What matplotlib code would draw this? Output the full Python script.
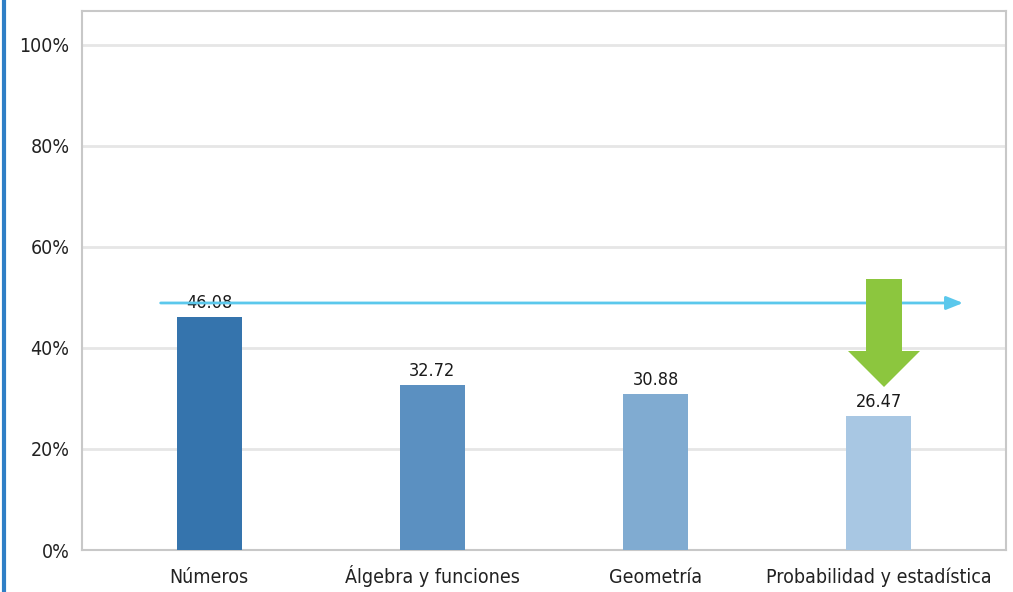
import matplotlib
matplotlib.use("Agg")
import matplotlib.pyplot as plt
from matplotlib.patches import Polygon
from matplotlib.lines import Line2D

categories = ["Números", "Álgebra y funciones", "Geometría", "Probabilidad y estadística"]
values = [46.08, 32.72, 30.88, 26.47]
bar_colors = ["#3574ad", "#5b90c1", "#80abd1", "#a8c7e3"]
yticks = [0, 20, 40, 60, 80, 100]
ytick_labels = ["0%", "20%", "40%", "60%", "80%", "100%"]
reference_level = 48.9

W, H = 1013, 592
fig = plt.figure(figsize=(W / 100, H / 100), dpi=100)
fig.patch.set_facecolor("white")

left, right, top, bottom = 82, 1006, 11, 550
ax = fig.add_axes([left / W, 1 - bottom / H, (right - left) / W, (bottom - top) / H])

x = list(range(len(categories)))
ax.bar(x, values, width=0.29, color=bar_colors, edgecolor="none", zorder=3)

font = dict(family="DejaVu Sans", fontstretch="condensed")
for xi, v in zip(x, values):
    ax.text(xi, v + 1.0, f"{v:.2f}", ha="center", va="bottom", fontsize=13,
            color="#1a1a1a", fontweight="medium", zorder=5, **font)

ax.set_xlim(-0.57, 3.57)
ax.set_ylim(0, 106.7)
ax.set_yticks(yticks)
ax.set_yticklabels(ytick_labels, fontsize=14, color="#222222", **font)
ax.set_xticks(x)
ax.set_xticklabels(categories, fontsize=14, color="#222222", **font)
ax.tick_params(axis="both", length=0)
ax.tick_params(axis="y", pad=9)
ax.tick_params(axis="x", pad=24)
for lab in ax.get_xticklabels():
    lab.set_va("baseline")
ax.grid(axis="y", color="#e6e6e6", linewidth=2, zorder=0)
for s in ax.spines.values():
    s.set_color("#c8c8c8")
    s.set_linewidth(1.5)

# horizontal reference arrow
ax.annotate("", xy=(3.39, reference_level), xytext=(-0.23, reference_level),
            arrowprops=dict(arrowstyle="-|>,head_length=1.0,head_width=0.4",
                            color="#5bc8ec", lw=2), zorder=6)

# green downward arrow (pixel outline converted to data coords)
def px(xp, yp):
    return ax.transData.inverted().transform((xp, H - yp))

fig.canvas.draw()
pts_px = [(866, 279), (902, 279), (902, 351), (920, 351), (884, 387),
          (848, 351), (866, 351)]
pts = [px(a, b) for a, b in pts_px]
ax.add_patch(Polygon(pts, closed=True, facecolor="#8cc63e", edgecolor="none", zorder=7))

# left blue border line
fig.add_artist(Line2D([4 / W, 4 / W], [0, 1], color="#2f7fc6", linewidth=3))

fig.savefig("out.png", dpi=100, facecolor="white")
